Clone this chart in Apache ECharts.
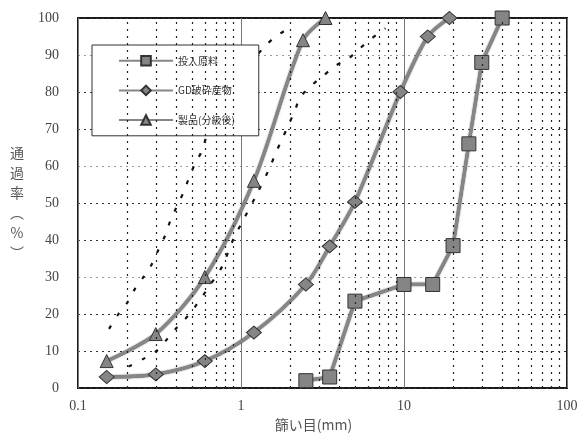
<!DOCTYPE html>
<html><head><meta charset="utf-8">
<script src="https://cdn.jsdelivr.net/npm/echarts@6/dist/echarts.min.js"></script>
<style>html,body{margin:0;padding:0;background:#fff}#c{width:581px;height:437px}</style>
</head><body><div id="c"></div>
<script>
// ---- data ----
const xTickLabels = ['0.1', '1', '10', '100'];
const yTicks = [0, 10, 20, 30, 40, 50, 60, 70, 80, 90, 100];

const rawName = '投入原料';
const rawSize = [2.5, 3.5, 5, 10, 15, 20, 25, 30, 40];
const rawPass = [2, 3, 23.5, 28, 28, 38.5, 66, 88, 100];

const gdName = 'GD破砕産物';
const gdSize = [0.15, 0.3, 0.6, 1.2, 2.5, 3.5, 5, 9.5, 14, 19];
const gdPass = [3, 3.7, 7.3, 15, 28, 38.3, 50.3, 80, 95, 100];

const prodName = '製品(分級後)';
const prodSize = [0.15, 0.3, 0.6, 1.2, 2.4, 3.3];
const prodPass = [7.3, 14.6, 30, 56, 94, 100];

// unlabeled dashed range curves
const upperSize = [0.155, 0.177, 0.2, 0.224, 0.252, 0.283, 0.311, 0.342, 0.367, 0.403, 0.443, 0.475, 0.522, 0.574, 0.616, 0.8, 1.1, 1.45, 1.66, 1.97];
const upperPass = [16, 20, 23, 26.9, 30, 33.4, 37.3, 41.2, 45, 49, 52.8, 56.3, 60.6, 64, 68, 78, 87, 93, 95.2, 97.3];
const lowerSize = [0.204, 0.252, 0.304, 0.35, 0.403, 0.475, 0.535, 0.616, 0.78, 0.836, 0.918, 1.01, 1.25, 1.51, 1.62, 1.78, 1.95, 2.14, 2.3, 2.71, 3.2, 3.77, 4.55, 5.3, 6.4, 7.7];
const lowerPass = [5.8, 7.9, 10.1, 13.1, 16.3, 19.6, 22.6, 26.5, 33.4, 36.9, 41.2, 44.6, 52.4, 59.8, 63.2, 67.1, 71, 74.9, 78.5, 81.8, 84.4, 87, 89, 91.6, 94.6, 97.2];

// minor vertical grid positions (sieve grid)
const minorX = [0.2,0.3,0.4,0.5,0.6,0.7,0.8,0.9, 2,3,4,5,6,7,8,9, 20,30,40,50,60,70,80,90];

const zip = (a, b) => a.map((v, i) => [v, b[i]]);

const chart = echarts.init(document.getElementById('c'), null, {renderer: 'canvas'});

const serif = "'Liberation Serif', 'Times New Roman', 'DejaVu Serif', serif";
const solidLine = {color: '#868686', width: 3.2, shadowColor: 'rgba(0,0,0,0.8)', shadowBlur: 1.5};
const markerStyle = {color: '#858585', borderColor: '#333', borderWidth: 1};
const dashStyle = {color: '#111', width: 2.2, type: [4, 11]};

chart.setOption({
  animation: false,
  backgroundColor: '#fff',
  grid: {left: 78, right: 14, top: 18, bottom: 33, show: true, borderColor: '#1a1a1a', borderWidth: 2, backgroundColor: 'transparent'},
  legend: {
    data: [rawName, gdName, prodName],
    orient: 'vertical', left: 92, top: 45,
    itemWidth: 54, itemHeight: 12, itemGap: 18,
    padding: [10, 24, 10, 26],
    backgroundColor: '#fff', borderColor: '#333', borderWidth: 1,
    textStyle: {fontFamily: 'Noto Sans CJK JP', fontSize: 10, color: '#333'}
  },
  xAxis: {
    type: 'log', logBase: 10, min: 0.1, max: 100,
    axisLine: {show: false}, axisTick: {show: false},
    axisLabel: {
      fontFamily: serif, fontSize: 14, color: '#444', margin: 11,
      formatter: v => { const i = Math.round(Math.log10(v)) + 1; return xTickLabels[i] ?? ''; }
    },
    splitLine: {show: true, lineStyle: {color: '#777', width: 1, type: 'solid'}},
    name: '篩い目(mm)', nameLocation: 'middle', nameGap: 20,
    nameTextStyle: {fontFamily: 'Noto Sans CJK JP', fontSize: 14, color: '#555', padding: [0, 18, 0, 0]}
  },
  yAxis: {
    type: 'value', min: 0, max: 100, interval: 10,
    axisLine: {show: false}, axisTick: {show: false},
    axisLabel: {fontFamily: serif, fontSize: 14, color: '#444', margin: 19,
      formatter: v => yTicks.includes(v) ? String(v) : ''},
    splitLine: {show: true, lineStyle: {color: ['#333','#333','#333','#9a9a9a','#333','#333','#9a9a9a','#333','#333','#9a9a9a','#333'], width: 1, type: [2, 4]}},
    name: '通\n過\n率\n︵\n%\n︶', nameLocation: 'middle', nameGap: 61, nameRotate: 0,
    nameTextStyle: {fontFamily: 'Noto Sans CJK JP', fontSize: 14, color: '#555', lineHeight: 20, align: 'center', verticalAlign: 'middle'}
  },
  series: [
    {
      name: 'minor-grid', type: 'line', data: [], silent: true,
      markLine: {silent: true, symbol: 'none', label: {show: false},
        lineStyle: {color: '#222', width: 1.2, type: [2, 5]},
        data: minorX.map(v => ({xAxis: v}))}
    },
    {name: 'upper', type: 'line', data: zip(upperSize, upperPass), showSymbol: false, smooth: 0.3, lineStyle: dashStyle, silent: true, z: 1},
    {name: 'lower', type: 'line', data: zip(lowerSize, lowerPass), showSymbol: false, smooth: 0.3, lineStyle: dashStyle, silent: true, z: 1},
    {name: rawName, type: 'line', data: zip(rawSize, rawPass), symbol: 'rect', symbolSize: 14,
      lineStyle: solidLine, itemStyle: markerStyle},
    {name: gdName, type: 'line', data: zip(gdSize, gdPass), symbol: 'diamond', symbolSize: [15, 13], smooth: 0.3,
      lineStyle: solidLine, itemStyle: markerStyle},
    {name: prodName, type: 'line', data: zip(prodSize, prodPass), symbol: 'triangle', symbolSize: 13, smooth: 0.3,
      lineStyle: solidLine, itemStyle: markerStyle}
  ]
});
</script></body></html>
